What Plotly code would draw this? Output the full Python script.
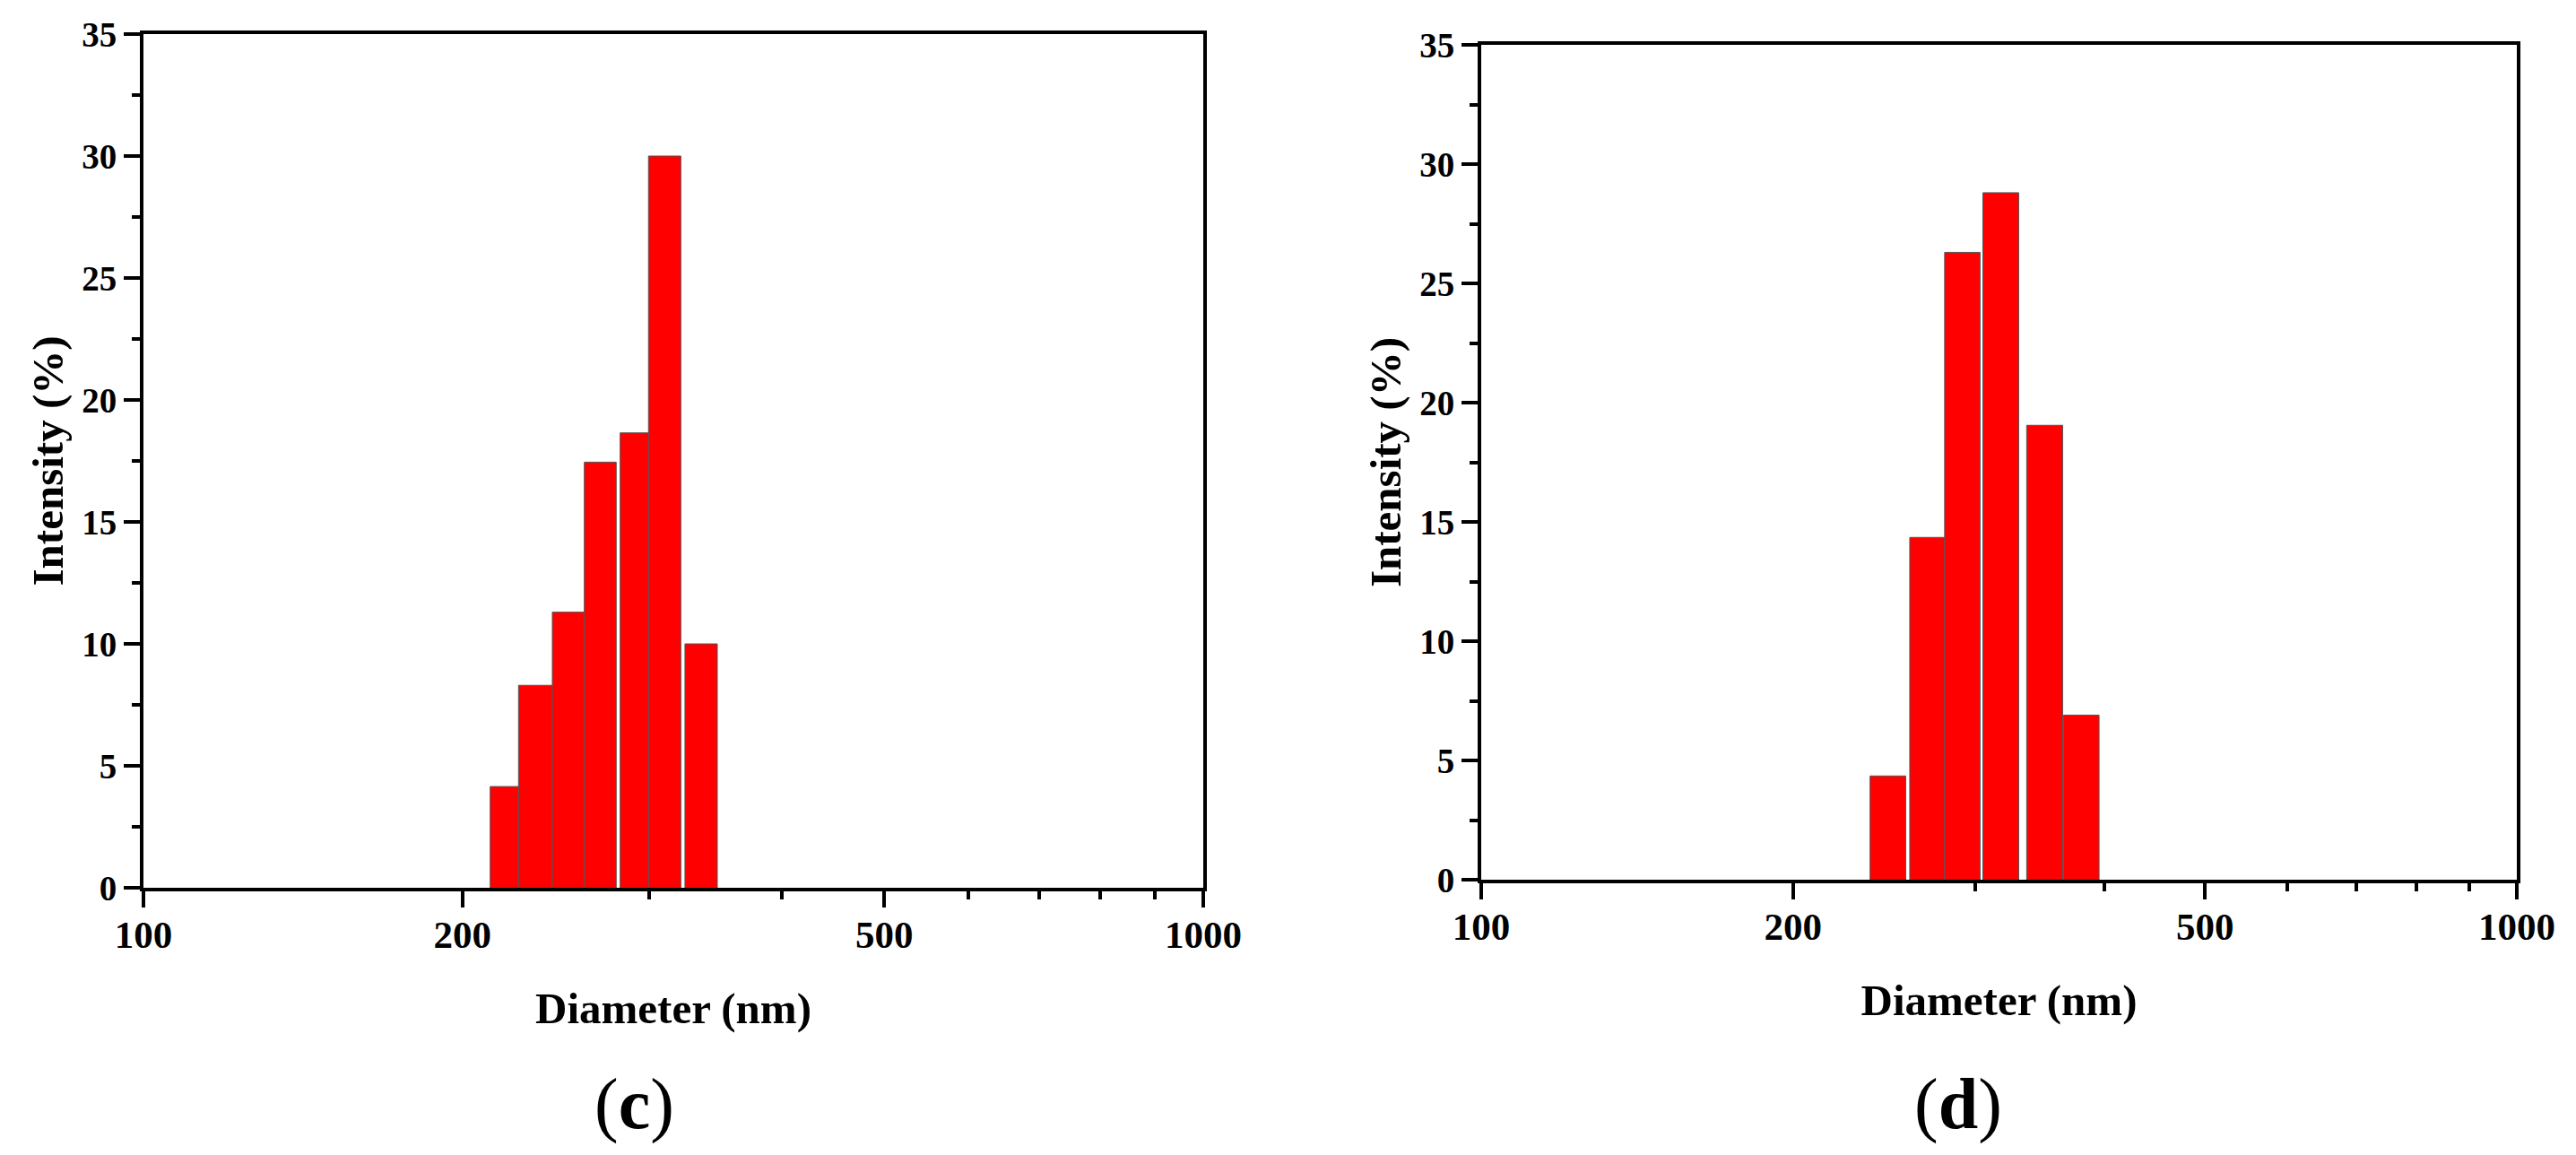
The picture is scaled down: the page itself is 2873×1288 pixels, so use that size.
import plotly.graph_objects as go

# ---------------- data ----------------
# panel (c)
bin_left_c = [212.4, 225.9, 243.1, 260.6, 281.7, 299.6, 324.3]
bin_right_c = [225.9, 243.1, 260.6, 279.3, 299.6, 321.4, 347.9]
intensity_c = [4.15, 8.3, 11.3, 17.45, 18.65, 30.0, 10.0]

# panel (d)
bin_left_d = [237.4, 259.3, 280.2, 305.1, 336.3, 365.0]
bin_right_d = [257.0, 280.2, 303.2, 330.4, 364.3, 395.0]
intensity_d = [4.35, 14.35, 26.3, 28.8, 19.05, 6.9]

x_tickvals = [100, 200, 500, 1000]
x_ticktext = ["100", "200", "500", "1000"]
x_minorvals = [300, 400, 600, 700, 800, 900]
y_tickvals = [0, 5, 10, 15, 20, 25, 30, 35]

x_title = "Diameter (nm)"
y_title = "Intensity (%)"
panel_labels = ["(<b>c</b>)", "(<b>d</b>)"]

# ---------------- figure ----------------
W, H = 2873, 1288          # window size
OFF = 8                    # default page body margin
FW, FH = W - OFF, H - OFF  # figure size
FONT = "Liberation Serif, Times New Roman, serif"
BAR_COLOR = "#FF0000"
BAR_LINE = "#555555"


def px_x(p):
    return (p - OFF) / FW


def px_y(p):
    return 1 - (p - OFF) / FH


fig = go.Figure()

fig.add_trace(go.Bar(
    x=bin_left_c, y=intensity_c,
    width=[r - l for l, r in zip(bin_left_c, bin_right_c)],
    offset=0,
    marker=dict(color=BAR_COLOR, line=dict(color=BAR_LINE, width=1)),
    xaxis="x", yaxis="y", showlegend=False,
))
fig.add_trace(go.Bar(
    x=bin_left_d, y=intensity_d,
    width=[r - l for l, r in zip(bin_left_d, bin_right_d)],
    offset=0,
    marker=dict(color=BAR_COLOR, line=dict(color=BAR_LINE, width=1)),
    xaxis="x2", yaxis="y2", showlegend=False,
))

# panel pixel boxes in the screenshot: (left, right, top, bottom)
boxes = [(160, 1342, 38, 990), (1652, 2807, 50, 981)]


def xax(box):
    l, r, t, b = box
    return dict(
        domain=[px_x(l), px_x(r)], type="log", range=[2, 3],
        tickmode="array", tickvals=x_tickvals, ticktext=x_ticktext,
        ticks="outside", ticklen=18, tickwidth=4, tickcolor="black",
        minor=dict(tickmode="array", tickvals=x_minorvals, ticks="outside",
                   ticklen=9, tickwidth=4, tickcolor="black"),
        showline=True, linewidth=4, linecolor="black", mirror=True,
        showgrid=False, zeroline=False, automargin=False,
        ticklabelstandoff=-7,
        tickfont=dict(family=FONT, size=43, color="black", weight="bold"),
        title=dict(text="<b>" + x_title + "</b>", standoff=43,
                   font=dict(family=FONT, size=49, color="black")),
    )


def yax(box):
    l, r, t, b = box
    return dict(
        domain=[px_y(b), px_y(t)], range=[0, 35],
        tickmode="array", tickvals=y_tickvals,
        ticks="outside", ticklen=18, tickwidth=4, tickcolor="black",
        minor=dict(dtick=2.5, tick0=0, ticks="outside",
                   ticklen=9, tickwidth=4, tickcolor="black"),
        showline=True, linewidth=4, linecolor="black", mirror=True,
        showgrid=False, zeroline=False, automargin=False,
        tickfont=dict(family=FONT, size=39, color="black", weight="bold"),
        title=dict(text="<b>" + y_title + "</b>", standoff=6,
                   font=dict(family=FONT, size=49, color="black")),
    )


fig.update_layout(
    width=FW, height=FH,
    margin=dict(l=0, r=0, t=0, b=0, autoexpand=False),
    paper_bgcolor="white", plot_bgcolor="white",
    xaxis=dict(xax(boxes[0]), anchor="y"),
    yaxis=dict(yax(boxes[0]), anchor="x"),
    xaxis2=dict(xax(boxes[1]), anchor="y2"),
    yaxis2=dict(yax(boxes[1]), anchor="x2"),
    barmode="overlay",
    font=dict(family=FONT, color="black"),
)

label_x = [707, 2184]
for lx, txt in zip(label_x, panel_labels):
    fig.add_annotation(
        x=px_x(lx), y=px_y(1231), xref="paper", yref="paper",
        text=txt, showarrow=False, xanchor="center", yanchor="middle",
        font=dict(family=FONT, size=80, color="black"),
    )

fig.write_html("out.html")
